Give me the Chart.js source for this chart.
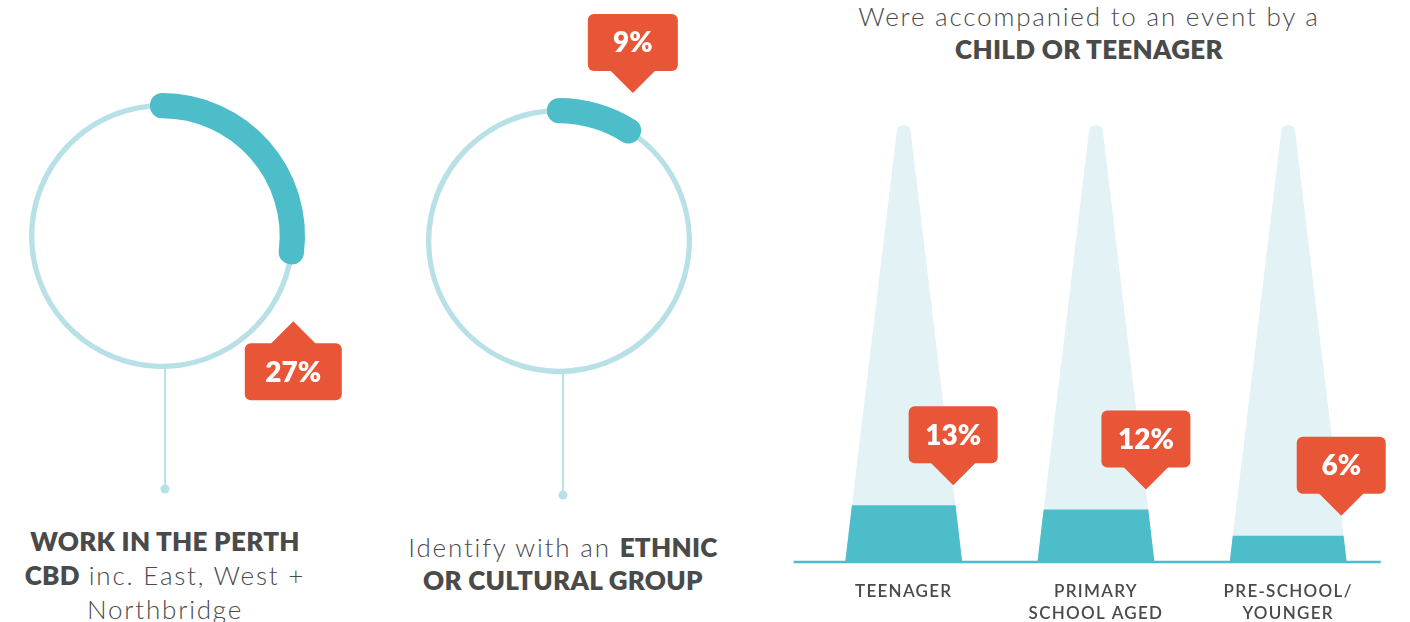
<!DOCTYPE html>
<html>
<head>
<meta charset="utf-8">
<script src="https://cdn.jsdelivr.net/npm/chart.js@4.4.1/dist/chart.umd.min.js"></script>
<style>
  html, body { margin: 0; padding: 0; background: #fff; }
  body { width: 1410px; height: 622px; position: relative; overflow: hidden;
         font-family: 'Lato', sans-serif; color: #4a4a4a; }
  canvas { position: absolute; }
  .txt { position: absolute; text-align: center; font-size: 26px; font-weight: 300;
         letter-spacing: 1.8px; white-space: nowrap; }
  .txt b { font-weight: 800; letter-spacing: 0.3px; }
</style>
</head>
<body>

<canvas id="ringWork" width="380" height="520" style="left:0;top:0"></canvas>
<canvas id="ringEthnic" width="400" height="520" style="left:380px;top:0"></canvas>
<canvas id="ageCones" width="630" height="544" style="left:780px;top:100px"></canvas>

<div class="txt" style="left:-5px;top:524px;width:340px;line-height:34px">
  <b>WORK IN THE PERTH</b><br><b>CBD</b> inc. East, West +<br>Northbridge
</div>
<div class="txt" style="left:363px;top:531px;width:400px;line-height:33px">
  Identify with an <b>ETHNIC</b><br><b>OR CULTURAL GROUP</b>
</div>
<div class="txt" style="left:789px;top:0;width:600px;line-height:33px">
  Were accompanied to an event by a<br><b>CHILD OR TEENAGER</b>
</div>

<script>
// ---- data ----
const RING_NAMES = ['Work in the Perth CBD', 'Ethnic or cultural group'];
const RING_VALUES = [27, 9];

const AGE_GROUPS = [['TEENAGER'], ['PRIMARY', 'SCHOOL AGED'], ['PRE-SCHOOL/', 'YOUNGER']];
const AGE_VALUES = [13, 12, 6];
const AGE_FULL = [100, 100, 100];

// ---- palette ----
const TEAL = '#4ebdca';
const TRACK = '#b8e0e7';
const CONE = '#e2f2f5';
const RED = '#e95537';
const INK = '#4a4a4a';

Chart.defaults.font.family = 'Lato';

// red speech-bubble label, arrow tip at (tx, ty)
function callout(ctx, tx, ty, dir, text, w) {
  ctx.save();
  ctx.letterSpacing = '0px';
  ctx.font = '800 28px Lato';
  const h = 57, ah = 22, ab = 23, r = 6;
  const x0 = tx - w / 2;
  const y0 = dir === 'down' ? ty - ah - h : ty + ah;
  ctx.fillStyle = RED;
  ctx.beginPath();
  ctx.moveTo(x0 + r, y0);
  ctx.arcTo(x0 + w, y0, x0 + w, y0 + h, r);
  ctx.arcTo(x0 + w, y0 + h, x0, y0 + h, r);
  ctx.arcTo(x0, y0 + h, x0, y0, r);
  ctx.arcTo(x0, y0, x0 + w, y0, r);
  ctx.closePath();
  ctx.fill();
  const by = dir === 'down' ? y0 + h - 1 : y0 + 1;
  ctx.beginPath();
  ctx.moveTo(tx - ab, by);
  ctx.lineTo(tx, ty);
  ctx.lineTo(tx + ab, by);
  ctx.closePath();
  ctx.fill();
  ctx.fillStyle = '#fff';
  ctx.textAlign = 'center';
  ctx.textBaseline = 'middle';
  ctx.fillText(text, tx, y0 + h / 2 + 1);
  ctx.restore();
}

// stem + dot under the ring, callout at the end of the value arc
const ringDecor = {
  id: 'ringDecor',
  beforeDatasetsDraw(chart, args, opts) {
    const arc = chart.getDatasetMeta(0).data[1];
    const r = (arc.outerRadius + arc.innerRadius) / 2;
    const ctx = chart.ctx;
    const sx = arc.x + opts.stemDx;
    ctx.save();
    ctx.strokeStyle = TRACK;
    ctx.fillStyle = TRACK;
    ctx.lineWidth = 2;
    ctx.beginPath();
    ctx.moveTo(sx, arc.y + r);
    ctx.lineTo(sx, arc.y + opts.stem);
    ctx.stroke();
    ctx.beginPath();
    ctx.arc(sx, arc.y + opts.stem, 4.5, 0, Math.PI * 2);
    ctx.fill();
    ctx.restore();
  },
  afterDatasetsDraw(chart, args, opts) {
    const arc = chart.getDatasetMeta(0).data[1];
    const r = (arc.outerRadius + arc.innerRadius) / 2;
    const ex = arc.x + r * Math.cos(arc.endAngle);
    const ey = arc.y + r * Math.sin(arc.endAngle);
    const v = chart.data.datasets[0].data[1];
    callout(chart.ctx, ex + opts.dx, ey + opts.dy, opts.dir, v + '%', opts.boxW);
  }
};

function ringChart(id, idx, pad, deco) {
  const value = RING_VALUES[idx];
  return new Chart(document.getElementById(id), {
    type: 'doughnut',
    data: {
      labels: ['other', RING_NAMES[idx]],
      datasets: [{
        data: [100 - value, value],
        backgroundColor: [TRACK, TEAL],
        borderColor: [TRACK, TEAL],
        borderWidth: [4, 24],
        hoverBorderWidth: [4, 24],
        borderJoinStyle: 'round',
        borderAlign: 'center'
      }]
    },
    options: {
      responsive: false,
      animation: false,
      events: [],
      rotation: value * 3.6,   // value slice starts at 12 o'clock
      cutout: '99%',
      layout: { padding: pad },
      plugins: { legend: { display: false }, tooltip: { enabled: false }, ringDecor: deco }
    },
    plugins: [ringDecor]
  });
}

ringChart('ringWork', 0, { left: 19, top: 93, right: 75, bottom: 141 },
  { stem: 253, stemDx: 3, dx: 2, dy: 69, dir: 'up', boxW: 97 });
ringChart('ringEthnic', 1, { left: 36, top: 98, right: 78, bottom: 136 },
  { stem: 254, stemDx: 4, dx: 4, dy: -38, dir: 'down', boxW: 90 });

// tapered cones instead of rectangles; value part is the cone cut at its height
const cones = {
  id: 'cones',
  beforeDraw(chart) {
    chart.ctx.letterSpacing = '1.3px';   // spaced-out category labels
  },
  beforeDatasetDraw(chart, args) {
    const { ctx, scales: { y } } = chart;
    const base = y.getPixelForValue(0);
    const full = y.getPixelForValue(y.max);
    const ht = 7;
    ctx.save();
    args.meta.data.forEach(el => {
      const hb = el.width / 2;
      const hw = yy => hb - (hb - ht) * (base - yy) / (base - full);
      ctx.fillStyle = el.options.backgroundColor;
      ctx.beginPath();
      ctx.moveTo(el.x - hb, el.base);
      if (el.y <= full + 0.5) {
        ctx.lineTo(el.x - ht, full + ht);
        ctx.arc(el.x, full + ht, ht, Math.PI, 0);
      } else {
        ctx.lineTo(el.x - hw(el.y), el.y);
        ctx.lineTo(el.x + hw(el.y), el.y);
      }
      ctx.lineTo(el.x + hb, el.base);
      ctx.closePath();
      ctx.fill();
    });
    ctx.restore();
    return false;
  },
  afterDatasetsDraw(chart) {
    const { ctx, chartArea, scales: { y } } = chart;
    const base = y.getPixelForValue(0);
    const full = y.getPixelForValue(y.max);
    ctx.save();
    ctx.strokeStyle = TEAL;
    ctx.lineWidth = 2.5;
    ctx.beginPath();
    ctx.moveTo(chartArea.left - 14, base);
    ctx.lineTo(chartArea.right - 3.5, base);
    ctx.stroke();
    ctx.restore();
    const meta = chart.getDatasetMeta(0);
    meta.data.forEach((el, i) => {
      const hb = el.width / 2;
      const ty = el.y - 20;
      const tx = el.x + hb - (hb - 7) * (base - ty) / (base - full);
      callout(ctx, tx, ty, 'down', chart.data.datasets[0].data[i] + '%', 89);
    });
  }
};

new Chart(document.getElementById('ageCones'), {
  type: 'bar',
  data: {
    labels: AGE_GROUPS,
    datasets: [
      { label: 'Accompanied by', data: AGE_VALUES, backgroundColor: TEAL, order: 0, grouped: false, barThickness: 117 },
      { label: 'Scale', data: AGE_FULL, backgroundColor: CONE, order: 1, grouped: false, barThickness: 117 }
    ]
  },
  options: {
    responsive: false,
    animation: false,
    events: [],
    layout: { padding: { left: 27.6, right: 25.7, top: 25, bottom: 0 } },
    scales: {
      x: {
        grid: { display: false, drawTicks: false },
        border: { display: false },
        ticks: { color: INK, padding: 19, font: { size: 17, weight: '600', lineHeight: 22 / 17 } }
      },
      y: { display: false, min: 0, max: 100 }
    },
    plugins: { legend: { display: false }, tooltip: { enabled: false } }
  },
  plugins: [cones]
});
</script>
</body>
</html>
